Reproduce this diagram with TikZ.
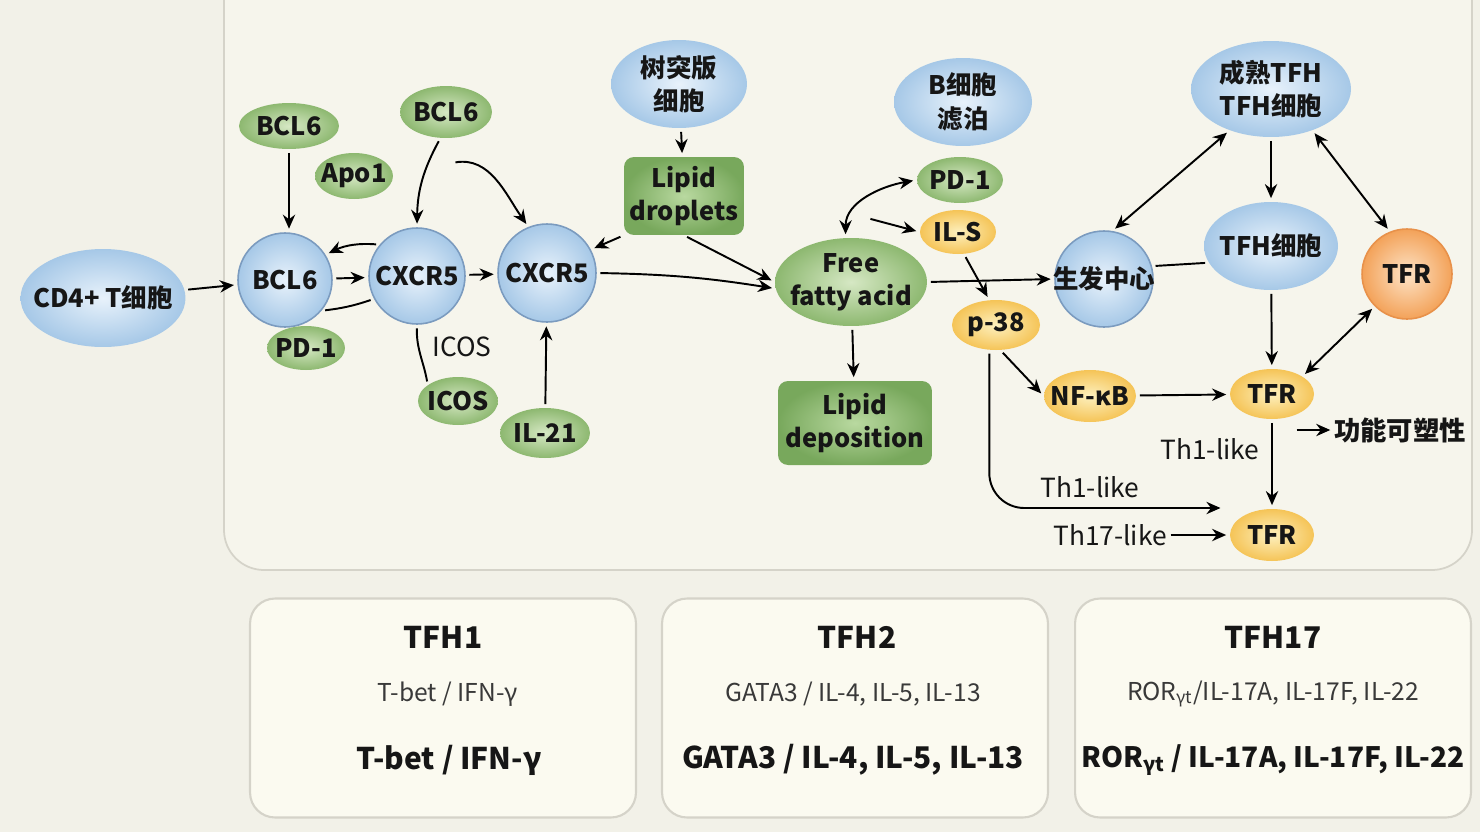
\documentclass[tikz,border=0pt]{standalone}
\usepackage{fontspec}
\setmainfont{Noto Sans CJK SC}
\usepackage{xcolor}
\usepackage{tikz}
\usetikzlibrary{shapes.geometric, arrows.meta, positioning, calc}

\definecolor{bgpage}{HTML}{F2F1E8}
\definecolor{bgpanel}{HTML}{F6F5EC}
\definecolor{panelline}{HTML}{D5D3C9}
\definecolor{boxfill}{HTML}{FBFAF0}
\definecolor{txt}{HTML}{161616}
\definecolor{blueIn}{HTML}{E8F2FB}
\definecolor{blueOut}{HTML}{A6C8E7}
\definecolor{blueLine}{HTML}{7B9BBF}
\definecolor{greenIn}{HTML}{D6E8C4}
\definecolor{greenOut}{HTML}{8DB870}
\definecolor{gboxIn}{HTML}{B9D9A0}
\definecolor{gboxOut}{HTML}{78A85C}
\definecolor{yellowIn}{HTML}{FDF0BE}
\definecolor{yellowOut}{HTML}{F5C457}
\definecolor{orangeIn}{HTML}{FDE3C6}
\definecolor{orangeOut}{HTML}{F3A259}
\definecolor{orangeLine}{HTML}{E8914A}

\tikzset{
  lbl/.style={font=\fontsize{14.5}{19}\selectfont\bfseries, text=txt, align=center, inner sep=0pt},
  shrink/.style={inner sep=-10pt},
  blueell/.style={lbl, shrink, ellipse, inner color=blueIn, outer color=blueOut},
  bluecirc/.style={lbl, shrink, circle, inner color=blueIn, outer color=blueOut, draw=blueLine, line width=0.9pt},
  greenell/.style={lbl, shrink, ellipse, inner color=greenIn, outer color=greenOut},
  yellowell/.style={lbl, shrink, ellipse, inner color=yellowIn, outer color=yellowOut},
  orangecirc/.style={lbl, shrink, circle, inner color=orangeIn, outer color=orangeOut, draw=orangeLine, line width=0.9pt},
  greenbox/.style={lbl, rectangle, rounded corners=0.2cm, inner color=gboxIn, outer color=gboxOut},
  plain/.style={font=\fontsize{15}{18}\selectfont, text=txt, inner sep=0pt},
  arr/.style={-{Stealth[length=8pt,width=7pt]}, line width=1.1pt, shorten >=2pt, shorten <=2pt},
  darr/.style={{Stealth[length=8pt,width=7pt]}-{Stealth[length=8pt,width=7pt]}, line width=1.1pt, shorten >=2pt, shorten <=2pt},
  link/.style={line width=1.1pt, shorten >=2pt, shorten <=2pt},
  subbox/.style={rectangle, rounded corners=0.5cm, draw=panelline, fill=boxfill, line width=1.2pt, minimum height=4.38cm},
  boxtitle/.style={font=\fontsize{17}{20}\selectfont\bfseries, text=txt, inner sep=0pt},
  boxmid/.style={font=\fontsize{14}{16}\selectfont, text=txt!85, inner sep=0pt},
  boxbig/.style={font=\fontsize{17}{20}\selectfont\bfseries, text=txt, inner sep=0pt}
}

\begin{document}
\begin{tikzpicture}[x=0.02cm, y=-0.02cm]
\useasboundingbox (0,0) rectangle (1480,832);
\fill[bgpage] (0,0) rectangle (1480,832);
\draw[panelline, fill=bgpanel, line width=1pt, rounded corners=0.8cm] (224,-40) rectangle (1472,570);

% left part: CD4 -> BCL6 -> CXCR5
\node[blueell, minimum width=3.3cm, minimum height=1.96cm] (cd4) at (103,298) {CD4+ T细胞};
\node[bluecirc, minimum size=1.88cm] (bcl6) at (285,280) {BCL6};
\node[bluecirc, minimum size=1.92cm] (cxA) at (417,276) {CXCR5};
\node[bluecirc, minimum size=1.96cm] (cxB) at (547,273) {CXCR5};
\node[greenell, minimum width=2cm, minimum height=0.92cm] (bclA) at (289,126) {BCL6};
\node[greenell, minimum width=1.56cm, minimum height=0.92cm] (apo) at (354,176) {Apo1};
\node[greenell, minimum width=1.84cm, minimum height=1.04cm] (bclB) at (446,112) {BCL6};
\node[greenell, minimum width=1.56cm, minimum height=0.88cm] (pdA) at (306,348) {PD-1};
\node[greenell, minimum width=1.6cm, minimum height=0.96cm] (icos) at (458,401) {ICOS};
\node[greenell, minimum width=1.8cm, minimum height=1cm] (il21) at (545,433) {IL-21};
\node[plain] (icoslbl) at (462,347) {ICOS};
\coordinate (bclBtail) at (452,163);

% lipid part
\node[blueell, minimum width=2.72cm, minimum height=1.76cm] (dc) at (679,84) {树突版\\细胞};
\node[greenbox, minimum width=2.4cm, minimum height=1.56cm] (lipA) at (684,196) {Lipid\\droplets};
\node[greenell, minimum width=3.04cm, minimum height=1.76cm] (ffa) at (851,282) {Free\\fatty acid};
\node[greenbox, minimum width=3.08cm, minimum height=1.68cm] (lipD) at (855,423) {Lipid\\deposition};
\node[blueell, minimum width=2.76cm, minimum height=1.76cm] (bcell) at (963,102) {B细胞\\滤泊};
\node[greenell, minimum width=1.72cm, minimum height=0.92cm] (pdB) at (960,180) {PD-1};
\node[yellowell, minimum width=1.52cm, minimum height=0.88cm] (ils) at (958,232) {IL-S};
\node[yellowell, minimum width=1.76cm, minimum height=1cm] (p38) at (996,325) {p-38};
\node[yellowell, minimum width=1.84cm, minimum height=1.04cm] (nf) at (1090,396) {NF-κB};
\coordinate (ffaTop) at (867,218);

% right part
\node[bluecirc, ellipse, minimum width=1.96cm, minimum height=1.92cm] (gc) at (1104,279) {生发中心};
\node[blueell, minimum width=3.2cm, minimum height=1.92cm] (mtfh) at (1271,89) {成熟TFH\\TFH细胞};
\node[blueell, minimum width=2.68cm, minimum height=1.76cm] (tfh) at (1271,246) {TFH细胞};
\node[orangecirc, minimum size=1.8cm] (tfrO) at (1407,274) {TFR};
\node[yellowell, minimum width=1.68cm, minimum height=1cm] (tfrB) at (1272,394) {TFR};
\node[yellowell, minimum width=1.68cm, minimum height=1.04cm] (tfrC) at (1272,535) {TFR};
\node[lbl, font=\fontsize{15}{18}\selectfont\bfseries] (plast) at (1400,430) {功能可塑性};
\node[plain] (th1a) at (1210,449) {Th1-like};
\node[plain] (th1b) at (1090,487) {Th1-like};
\node[plain] (th17) at (1110,535) {Th17-like};
\coordinate (th1end) at (1224,508);
\coordinate (plastStart) at (1293,430);

% connectors
\draw[arr] (cd4) -- (bcl6);
\draw[arr] (bclA.south) -- (bclA.south |- bcl6.north);
\draw[arr] (cxA.140) to[bend right=15] (bcl6.32);
\draw[arr] (bcl6) -- (cxA);
\draw[link] (cxA.208) to[bend left=6] (bcl6.-40);
\draw[arr] (cxA) -- (cxB);
\draw[arr] (bclB.258) to[bend right=14] (cxA.north);
\draw[arr] (bclBtail) to[out=10, in=125] (cxB.112);
\draw[link] (cxA.south) to[out=-92, in=100] (icos.152);
\draw[arr] (il21) -- (cxB);
\draw[arr] (lipA.south west) -- (cxB.28);
\draw[arr] (lipA.south) -- (ffa.west);
\draw[arr] (cxB.east) to[bend left=4] (ffa.185);
\draw[arr] (dc) -- (lipA);
\draw[arr] (ffa) -- (lipD);
\draw[darr] (ffa.97) to[out=90, in=190] (pdB.west);
\draw[arr] (ffaTop) -- (ils.west);
\draw[arr] (ils.-75) -- (p38.105);
\draw[arr] (ffa.east) -- (gc.west);
\draw[arr] (p38.-80) -- (nf.west);
\draw[arr, rounded corners=0.7cm] (p38.255) |- (th1end);
\draw[arr] (nf) -- (tfrB);
\draw[darr] (gc.80) -- (mtfh.225);
\draw[arr] (mtfh) -- (tfh);
\draw[darr] (mtfh.-45) -- (tfrO.112);
\draw[link] (gc.15) -- (tfh.195);
\draw[arr] (tfh) -- (tfrB);
\draw[darr] (tfrO.-135) -- (tfrB.30);
\draw[arr] (tfrB) -- (tfrC);
\draw[arr] (th17) -- (tfrC);
\draw[arr] (plastStart) -- (plast.west);

% subsets
\node[subbox, minimum width=7.72cm] (box1) at (443,708) {};
\node[subbox, minimum width=7.72cm] (box2) at (855,708) {};
\node[subbox, minimum width=7.92cm] (box3) at (1273,708) {};
\node[boxtitle] (t1) at (443,637) {TFH1};
\node[boxmid] (m1) at (448,694) {T-bet / IFN-γ};
\node[boxbig] (b1) at (449,760) {T-bet / IFN-γ};
\node[boxtitle] (t2) at (857,637) {TFH2};
\node[boxmid] (m2) at (853,694) {GATA3 / IL-4, IL-5, IL-13};
\node[boxbig] (b2) at (853,760) {GATA3 / IL-4, IL-5, IL-13};
\node[boxtitle] (t3) at (1273,637) {TFH17};
\node[boxmid] (m3) at (1273,694) {ROR\textsubscript{γt}/IL-17A, IL-17F, IL-22};
\node[boxbig, font=\fontsize{16}{19}\selectfont\bfseries] (b3) at (1273,760) {ROR\textsubscript{γt} / IL-17A, IL-17F, IL-22};
\end{tikzpicture}
\end{document}
